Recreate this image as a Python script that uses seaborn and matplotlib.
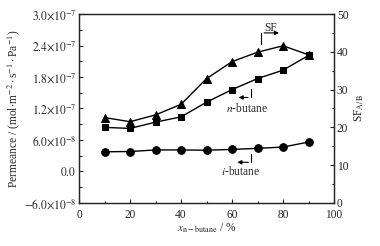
import numpy as np
import pandas as pd
import matplotlib
matplotlib.use("Agg")
import matplotlib.pyplot as plt
import seaborn as sns
from matplotlib.ticker import MultipleLocator, FixedLocator

# data
x_nbutane = [10, 20, 30, 40, 50, 60, 70, 80, 90]
n_butane = [8.4e-8, 8.2e-8, 9.4e-8, 1.04e-7, 1.32e-7, 1.56e-7, 1.77e-7, 1.93e-7, 2.21e-7]
i_butane = [3.75e-8, 3.8e-8, 4.1e-8, 4.1e-8, 4.05e-8, 4.2e-8, 4.4e-8, 4.65e-8, 5.6e-8]
sf = [22.6, 21.5, 23.3, 26.1, 32.9, 37.4, 39.9, 41.6, 39.2]

left_ticks = [-6e-8, 0.0, 6e-8, 1.2e-7, 1.8e-7, 2.4e-7, 3.0e-7]
left_labels = [r"$-6.0{\times}10^{-8}$", r"$0.0$", r"$6.0{\times}10^{-8}$",
               r"$1.2{\times}10^{-7}$", r"$1.8{\times}10^{-7}$",
               r"$2.4{\times}10^{-7}$", r"$3.0{\times}10^{-7}$"]

df = pd.DataFrame({"x": x_nbutane, "n": n_butane, "i": i_butane, "sf": sf})

sns.set_style("ticks")
plt.rcParams["font.family"] = ["Liberation Serif", "DejaVu Serif"]
plt.rcParams["mathtext.fontset"] = "stix"
fs = 8.3
plt.rcParams["font.size"] = fs

fig = plt.figure(figsize=(3.8, 2.46), dpi=100)
ax = fig.add_axes([0.208, 0.175, 0.671, 0.768])
ax2 = ax.twinx()

sns.lineplot(data=df, x="x", y="n", ax=ax, color="black", marker="s",
             markersize=5, markeredgecolor="black", linewidth=1)
sns.lineplot(data=df, x="x", y="i", ax=ax, color="black", marker="o",
             markersize=5.5, markeredgecolor="black", linewidth=1)
sns.lineplot(data=df, x="x", y="sf", ax=ax2, color="black", marker="^",
             markersize=5.5, markeredgecolor="black", linewidth=1)

ax.set_xlim(0, 100)
ax.set_ylim(-6e-8, 3.0e-7)
ax2.set_ylim(0, 50)

ax.xaxis.set_major_locator(MultipleLocator(20))
ax.xaxis.set_minor_locator(MultipleLocator(10))
ax.yaxis.set_major_locator(FixedLocator(left_ticks))
ax.set_yticklabels(left_labels)
ax.yaxis.set_minor_locator(MultipleLocator(3e-8))
ax2.yaxis.set_major_locator(MultipleLocator(10))
ax2.yaxis.set_minor_locator(MultipleLocator(5))

for a in (ax, ax2):
    a.tick_params(which="both", direction="in", labelsize=fs, width=0.8)
    a.tick_params(which="major", length=3)
    a.tick_params(which="minor", length=1.8)
    for s in a.spines.values():
        s.set_linewidth(0.9)
ax.tick_params(axis="x", pad=4.5)
ax.tick_params(axis="y", pad=2)
ax2.tick_params(axis="y", pad=2)
# lift the right-hand "0" a little so it clears the x "100"
ax2.get_yticklabels()[0].set_verticalalignment("bottom")

ax.set_xlabel(r"$x_{\rm n-butane}$ / %", fontsize=fs, labelpad=0)
ax.set_ylabel(r"Permeance / (mol$\cdot$m$^{-2}\cdot$s$^{-1}\cdot$Pa$^{-1}$)",
              fontsize=fs, labelpad=1)
ax2.set_ylabel(r"SF$_{\rm A/B}$", fontsize=fs, labelpad=3)

# annotations with L-shaped arrows
ax2.text(75, 44.8, "SF", ha="center", va="bottom", fontsize=fs)
ax2.annotate("", xy=(79.5, 45.0), xytext=(71.5, 45.0),
             arrowprops=dict(arrowstyle="-|>", color="black", lw=0.8,
                             mutation_scale=6))
ax2.plot([71.5, 71.5], [42.0, 45.0], color="black", lw=0.8)

ax.text(66, 1.2e-7, r"$n$-butane", ha="center", va="center", fontsize=fs)
ax.plot([67.3, 67.3], [1.58e-7, 1.41e-7], color="black", lw=0.8)
ax.annotate("", xy=(61.5, 1.41e-7), xytext=(67.3, 1.41e-7),
            arrowprops=dict(arrowstyle="-|>", color="black", lw=0.8,
                            mutation_scale=6))

ax.text(63.5, -1.0e-9, r"$i$-butane", ha="center", va="center", fontsize=fs)
ax.plot([67.5, 67.5], [3.3e-8, 1.75e-8], color="black", lw=0.8)
ax.annotate("", xy=(61.0, 1.75e-8), xytext=(67.5, 1.75e-8),
            arrowprops=dict(arrowstyle="-|>", color="black", lw=0.8,
                            mutation_scale=6))

fig.savefig("out.png", dpi=100)
